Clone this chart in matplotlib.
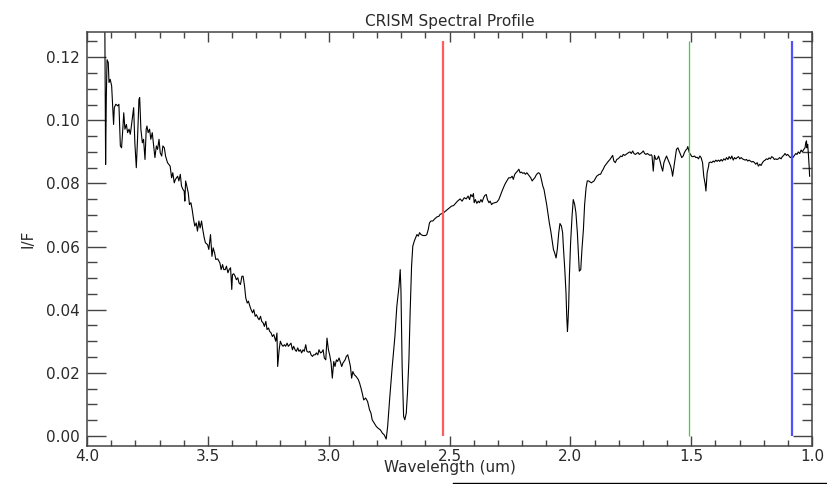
import numpy as np
import matplotlib
matplotlib.use("Agg")
import matplotlib.pyplot as plt
from matplotlib.ticker import MultipleLocator, FormatStrFormatter
from matplotlib.lines import Line2D

# CRISM spectrum (wavelength in um, I/F)
wavelength = [
    3.926, 3.923, 3.920, 3.917, 3.912, 3.909, 3.904, 3.898, 3.895, 3.890,
    3.887, 3.881, 3.873, 3.868, 3.862, 3.857, 3.851, 3.848, 3.843, 3.837,
    3.832, 3.826, 3.821, 3.818, 3.813, 3.807, 3.802, 3.796, 3.791, 3.785,
    3.782, 3.777, 3.771, 3.766, 3.760, 3.755, 3.752, 3.747, 3.741, 3.736,
    3.730, 3.724, 3.719, 3.713, 3.708, 3.702, 3.697, 3.691, 3.686, 3.680,
    3.675, 3.667, 3.656, 3.650, 3.645, 3.639, 3.634, 3.625, 3.620, 3.614,
    3.609, 3.603, 3.598, 3.595, 3.592, 3.587, 3.581, 3.576, 3.570, 3.565,
    3.559, 3.554, 3.548, 3.543, 3.537, 3.532, 3.526, 3.521, 3.515, 3.510,
    3.501, 3.496,
    3.489, 3.483, 3.478, 3.472, 3.467, 3.459, 3.450, 3.445, 3.439, 3.434,
    3.428, 3.423, 3.417, 3.412, 3.406, 3.401, 3.398, 3.393, 3.387, 3.382,
    3.376, 3.371, 3.365, 3.359, 3.354, 3.348, 3.343, 3.337, 3.332, 3.326,
    3.321, 3.315, 3.310, 3.304, 3.299, 3.293, 3.288, 3.282, 3.277, 3.271,
    3.266, 3.260, 3.255, 3.249, 3.244, 3.238, 3.233, 3.227, 3.219, 3.214,
    3.211, 3.205, 3.200, 3.194, 3.189, 3.183, 3.178, 3.172, 3.167, 3.161,
    3.156, 3.150, 3.145, 3.139, 3.134, 3.128, 3.123, 3.117, 3.112, 3.106,
    3.101, 3.095, 3.090, 3.084, 3.078, 3.073, 3.067, 3.062, 3.056, 3.051,
    3.045, 3.040, 3.034, 3.029, 3.023, 3.018, 3.012, 3.007, 3.001, 2.996,
    2.990, 2.985, 2.979, 2.974, 2.968, 2.963, 2.957,
    2.946, 2.941, 2.932, 2.927, 2.921, 2.916, 2.910, 2.905, 2.900, 2.894,
    2.886, 2.877, 2.872, 2.866, 2.861, 2.855, 2.847, 2.839, 2.831, 2.825,
    2.820, 2.811, 2.803, 2.795, 2.786, 2.778, 2.770, 2.762, 2.756, 2.748,
    2.737, 2.726, 2.718, 2.709, 2.704, 2.701, 2.696, 2.690, 2.685, 2.679,
    2.674, 2.668, 2.663, 2.657, 2.652, 2.646, 2.640, 2.635, 2.629, 2.624,
    2.618, 2.610, 2.599, 2.594, 2.588, 2.583, 2.577, 2.569, 2.561, 2.552,
    2.544, 2.539, 2.530, 2.525, 2.517, 2.508, 2.500, 2.492, 2.483, 2.475,
    2.467,
    2.456, 2.448, 2.439, 2.431, 2.423, 2.417, 2.412, 2.406, 2.401, 2.398,
    2.393, 2.387, 2.381, 2.376, 2.370, 2.365, 2.359, 2.354, 2.348, 2.343,
    2.337, 2.332, 2.326, 2.321, 2.313, 2.304, 2.296, 2.288, 2.280, 2.271,
    2.263, 2.255, 2.247, 2.241, 2.236, 2.230, 2.225, 2.219, 2.213, 2.208,
    2.202, 2.197, 2.191, 2.186, 2.180, 2.175, 2.169, 2.164, 2.158, 2.153,
    2.147, 2.142, 2.136, 2.131, 2.125, 2.120, 2.114, 2.109, 2.103, 2.098,
    2.092, 2.087, 2.081, 2.076, 2.070, 2.065, 2.059, 2.054, 2.048, 2.043,
    2.037, 2.032, 2.029, 2.023, 2.018, 2.015, 2.012, 2.010, 2.007, 2.004,
    1.999, 1.993, 1.988, 1.982, 1.977, 1.971, 1.966, 1.963, 1.957, 1.952,
    1.946, 1.941, 1.935, 1.930, 1.924, 1.919, 1.913, 1.908, 1.902, 1.897,
    1.891, 1.886, 1.880,
    1.875, 1.869, 1.864, 1.858, 1.853, 1.847, 1.842, 1.836, 1.831, 1.825,
    1.820, 1.814, 1.808, 1.803, 1.797, 1.792, 1.786, 1.781, 1.775, 1.770,
    1.764, 1.759, 1.753, 1.748, 1.742, 1.737, 1.731, 1.726, 1.720, 1.715,
    1.709, 1.704, 1.698, 1.693, 1.687, 1.682, 1.676, 1.671, 1.665, 1.662,
    1.657, 1.652, 1.646, 1.640, 1.635, 1.629, 1.624, 1.618, 1.613, 1.607,
    1.602, 1.596, 1.591, 1.585, 1.580, 1.577, 1.572, 1.566, 1.561, 1.555,
    1.550, 1.544, 1.539, 1.533, 1.528, 1.522, 1.517, 1.514, 1.508, 1.503,
    1.497, 1.492, 1.486, 1.481, 1.475, 1.470, 1.464, 1.459, 1.453, 1.448,
    1.442, 1.439, 1.434, 1.428,
    1.426, 1.420, 1.415, 1.409, 1.404, 1.398, 1.393, 1.387, 1.382, 1.376,
    1.371, 1.365, 1.359, 1.354, 1.348, 1.343, 1.337, 1.332, 1.326, 1.321,
    1.315, 1.310, 1.304, 1.299, 1.293, 1.288, 1.282, 1.277, 1.271, 1.266,
    1.260, 1.255, 1.249, 1.244, 1.238, 1.233, 1.227, 1.222, 1.216, 1.211,
    1.205, 1.200, 1.194, 1.189, 1.183, 1.178, 1.172, 1.167, 1.161, 1.156,
    1.150, 1.145, 1.139, 1.134, 1.128, 1.123, 1.117, 1.112, 1.106, 1.101,
    1.095, 1.090, 1.084, 1.079, 1.073, 1.067, 1.062, 1.057, 1.051, 1.045,
    1.040, 1.034, 1.029, 1.026, 1.023, 1.021, 1.018, 1.015, 1.012, 1.010,
]

i_over_f = [
    0.1278, 0.0860, 0.1077, 0.1192, 0.1183, 0.1120, 0.1130, 0.1109, 0.1061, 0.0987,
    0.1040, 0.1051, 0.1046, 0.1051, 0.0919, 0.0913, 0.0982, 0.1024, 0.0972, 0.0987,
    0.0961, 0.0972, 0.0956, 0.0972, 0.1003, 0.1040, 0.0929, 0.0850, 0.0940, 0.1067,
    0.1072, 0.0972, 0.0929, 0.0940, 0.0876, 0.0972, 0.0982, 0.0961, 0.0972, 0.0940,
    0.0961, 0.0919, 0.0882, 0.0919, 0.0908, 0.0940, 0.0897, 0.0887, 0.0919, 0.0913,
    0.0887, 0.0866, 0.0855, 0.0818, 0.0834, 0.0802, 0.0813, 0.0823, 0.0808, 0.0829,
    0.0792, 0.0781, 0.0776, 0.0744, 0.0808, 0.0792, 0.0770, 0.0733, 0.0739, 0.0718,
    0.0686, 0.0665, 0.0675, 0.0649, 0.0681, 0.0659, 0.0681, 0.0654, 0.0628, 0.0612,
    0.0606, 0.0591,
    0.0638, 0.0569, 0.0596, 0.0580, 0.0559, 0.0561, 0.0548, 0.0527, 0.0543, 0.0527,
    0.0527, 0.0538, 0.0517, 0.0527, 0.0533, 0.0464, 0.0511, 0.0514, 0.0506, 0.0495,
    0.0501, 0.0485, 0.0480, 0.0506, 0.0506, 0.0474, 0.0437, 0.0421, 0.0427, 0.0411,
    0.0400, 0.0390, 0.0400, 0.0379, 0.0384, 0.0374, 0.0368, 0.0379, 0.0363, 0.0358,
    0.0347, 0.0363, 0.0337, 0.0342, 0.0331, 0.0326, 0.0315, 0.0321, 0.0300, 0.0326,
    0.0220, 0.0273, 0.0300, 0.0289, 0.0284, 0.0289, 0.0284, 0.0294, 0.0284, 0.0289,
    0.0294, 0.0273, 0.0284, 0.0273, 0.0268, 0.0279, 0.0268, 0.0273, 0.0263, 0.0273,
    0.0268, 0.0289, 0.0268, 0.0265, 0.0268, 0.0257, 0.0252, 0.0257, 0.0257, 0.0263,
    0.0257, 0.0273, 0.0263, 0.0265, 0.0273, 0.0247, 0.0241, 0.0310, 0.0273, 0.0257,
    0.0231, 0.0183, 0.0236, 0.0220, 0.0241, 0.0236, 0.0247,
    0.0220, 0.0231, 0.0241, 0.0252, 0.0257, 0.0241, 0.0220, 0.0183, 0.0204, 0.0194,
    0.0188, 0.0178, 0.0167, 0.0151, 0.0135, 0.0114, 0.0120, 0.0109, 0.0083, 0.0072,
    0.0051, 0.0040, 0.0030, 0.0024, 0.0019, 0.0009, 0.0003, -0.0010, 0.0030, 0.0114,
    0.0220, 0.0315, 0.0411, 0.0474, 0.0527, 0.0464, 0.0220, 0.0062, 0.0051, 0.0072,
    0.0135, 0.0241, 0.0390, 0.0538, 0.0601, 0.0617, 0.0628, 0.0638, 0.0633, 0.0644,
    0.0638, 0.0635, 0.0635, 0.0638, 0.0654, 0.0675, 0.0681, 0.0681, 0.0688, 0.0694,
    0.0696, 0.0702, 0.0705, 0.0707, 0.0712, 0.0718, 0.0723, 0.0728, 0.0730, 0.0737,
    0.0744,
    0.0751, 0.0744, 0.0755, 0.0751, 0.0760, 0.0749, 0.0765, 0.0758, 0.0768, 0.0739,
    0.0749, 0.0737, 0.0744, 0.0739, 0.0749, 0.0741, 0.0755, 0.0762, 0.0765, 0.0749,
    0.0739, 0.0744, 0.0733, 0.0737, 0.0739, 0.0741, 0.0749, 0.0765, 0.0781, 0.0797,
    0.0808, 0.0818, 0.0818, 0.0823, 0.0813, 0.0829, 0.0834, 0.0839, 0.0845, 0.0834,
    0.0836, 0.0832, 0.0834, 0.0829, 0.0834, 0.0829, 0.0823, 0.0818, 0.0808, 0.0813,
    0.0818, 0.0826, 0.0832, 0.0834, 0.0829, 0.0813, 0.0792, 0.0781, 0.0755, 0.0733,
    0.0702, 0.0675, 0.0649, 0.0622, 0.0591, 0.0580, 0.0564, 0.0591, 0.0644, 0.0673,
    0.0665, 0.0644, 0.0601, 0.0527, 0.0453, 0.0379, 0.0331, 0.0358, 0.0411, 0.0506,
    0.0612, 0.0696, 0.0749, 0.0733, 0.0707, 0.0644, 0.0569, 0.0522, 0.0527, 0.0591,
    0.0654, 0.0733, 0.0786, 0.0808, 0.0808, 0.0805, 0.0802, 0.0805, 0.0808, 0.0815,
    0.0823, 0.0826, 0.0829,
    0.0829, 0.0839, 0.0845, 0.0855, 0.0860, 0.0866, 0.0871, 0.0876, 0.0882, 0.0889,
    0.0871, 0.0866, 0.0876, 0.0878, 0.0882, 0.0887, 0.0885, 0.0892, 0.0889, 0.0892,
    0.0895, 0.0898, 0.0900, 0.0895, 0.0903, 0.0895, 0.0892, 0.0895, 0.0898, 0.0892,
    0.0895, 0.0898, 0.0903, 0.0895, 0.0892, 0.0895, 0.0892, 0.0889, 0.0891, 0.0887,
    0.0839, 0.0889, 0.0876, 0.0878, 0.0887, 0.0871, 0.0855, 0.0839, 0.0866, 0.0878,
    0.0887, 0.0876, 0.0866, 0.0855, 0.0839, 0.0823, 0.0850, 0.0882, 0.0908, 0.0913,
    0.0903, 0.0892, 0.0882, 0.0887, 0.0898, 0.0906, 0.0910, 0.0917, 0.0898, 0.0892,
    0.0885, 0.0885, 0.0887, 0.0882, 0.0883, 0.0878, 0.0887, 0.0882, 0.0866, 0.0823,
    0.0797, 0.0776, 0.0834, 0.0855,
    0.0866, 0.0868, 0.0866, 0.0871, 0.0868, 0.0874, 0.0870, 0.0874, 0.0870, 0.0876,
    0.0871, 0.0878, 0.0874, 0.0882, 0.0876, 0.0885, 0.0878, 0.0887, 0.0874, 0.0882,
    0.0878, 0.0882, 0.0885, 0.0878, 0.0882, 0.0878, 0.0876, 0.0874, 0.0876, 0.0871,
    0.0874, 0.0871, 0.0868, 0.0870, 0.0866, 0.0861, 0.0866, 0.0855, 0.0861, 0.0857,
    0.0866, 0.0871, 0.0874, 0.0878, 0.0876, 0.0881, 0.0878, 0.0885, 0.0882, 0.0876,
    0.0878, 0.0876, 0.0878, 0.0882, 0.0878, 0.0885, 0.0889, 0.0895, 0.0889, 0.0892,
    0.0887, 0.0882, 0.0885, 0.0882, 0.0889, 0.0895, 0.0892, 0.0900, 0.0895, 0.0906,
    0.0900, 0.0908, 0.0913, 0.0929, 0.0935, 0.0913, 0.0924, 0.0892, 0.0855, 0.0823,
]

# band markers (RGB wavelengths)
marker_wl = [2.529, 1.511, 1.084]
marker_colors = ["#ff5c5c", "#2adc2a", "#5050ff"]
marker_widths = [1.6, 0.9, 1.6]
marker_top = 0.125

plt.rcParams["font.family"] = ["DejaVu Sans"]
text_col = "#2a2a2a"

fig = plt.figure(figsize=(8.27, 4.84), dpi=100)
ax = fig.add_axes([0.1052, 0.0785, 0.8767, 0.8554])

ax.plot(wavelength, i_over_f, color="black", lw=0.8)
for w, c, lw in zip(marker_wl, marker_colors, marker_widths):
    ax.vlines(w, 0.0, marker_top, colors=c, lw=lw)

ax.set_xlim(4.0, 1.0)
ax.set_ylim(-0.0032, 0.128)

ax.xaxis.set_major_locator(MultipleLocator(0.5))
ax.xaxis.set_minor_locator(MultipleLocator(0.1))
ax.yaxis.set_major_locator(MultipleLocator(0.02))
ax.yaxis.set_minor_locator(MultipleLocator(0.005))
ax.xaxis.set_major_formatter(FormatStrFormatter("%.1f"))
ax.yaxis.set_major_formatter(FormatStrFormatter("%.2f"))

ax.tick_params(axis="both", which="both", direction="in", top=True, right=True,
               color="#444444", width=1.0, labelcolor=text_col, labelsize=11)
ax.tick_params(axis="x", which="major", length=7, pad=2)
ax.tick_params(axis="x", which="minor", length=4)
ax.tick_params(axis="y", which="major", length=14, pad=5)
ax.tick_params(axis="y", which="minor", length=7)

for s in ax.spines.values():
    s.set_color("#444444")
    s.set_linewidth(1.1)

ax.set_title("CRISM Spectral Profile", fontsize=11, color=text_col, pad=4)
ax.set_xlabel("Wavelength (um)", fontsize=11, color=text_col, labelpad=-3)
ax.set_ylabel("I/F", fontsize=11, color=text_col, labelpad=8)

# thin rule along the bottom edge of the window
fig.add_artist(Line2D([453 / 827, 1.0], [1.5 / 484, 1.5 / 484], color="black", lw=1.0))

fig.savefig("out.png", dpi=100)
